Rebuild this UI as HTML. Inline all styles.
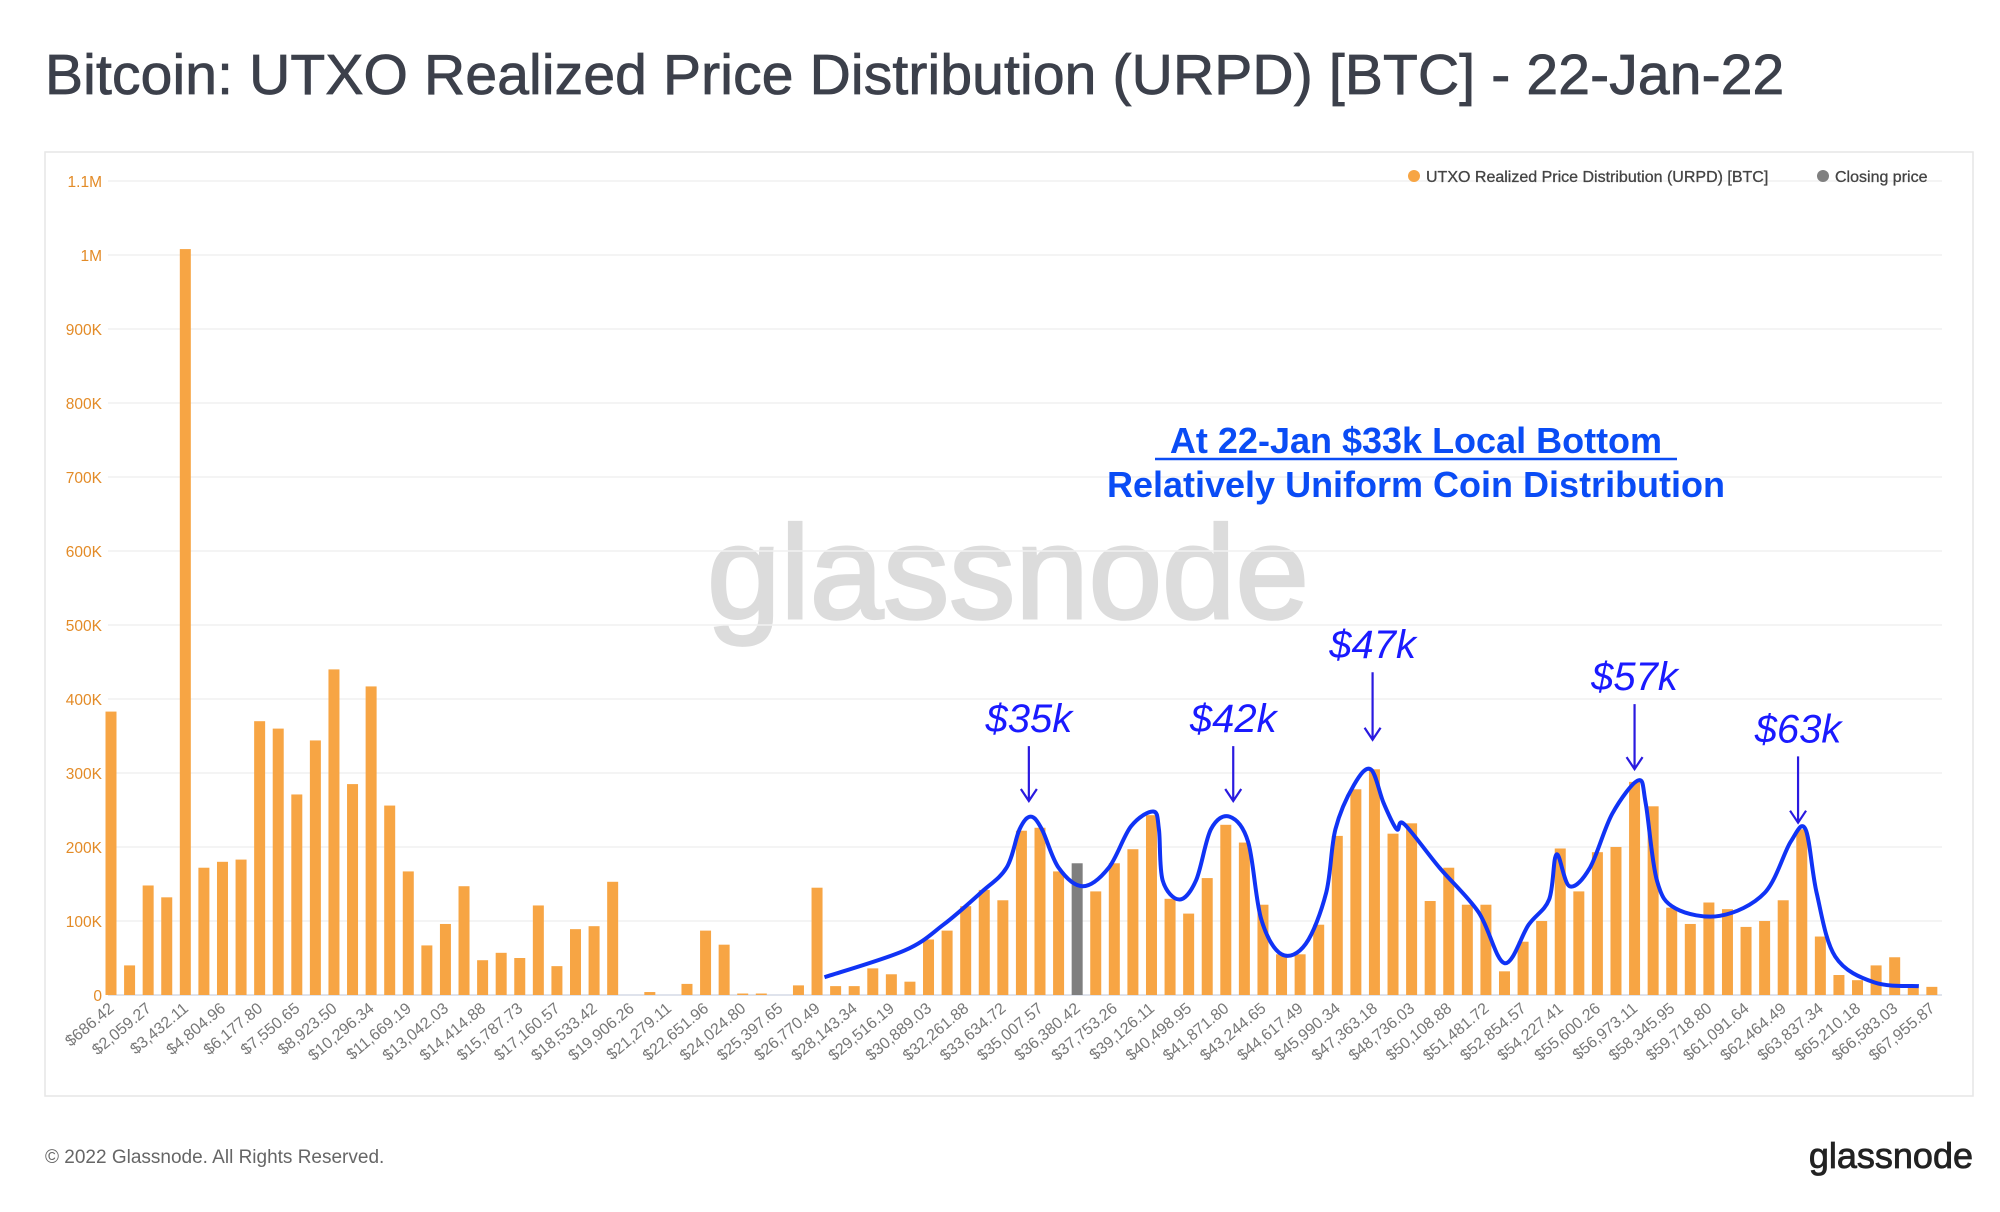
<!DOCTYPE html>
<html><head><meta charset="utf-8"><style>
body{margin:0;background:#fff;width:2000px;height:1207px;overflow:hidden;font-family:"Liberation Sans",sans-serif}
</style></head><body>
<svg id="chart" width="2000" height="1207" xmlns="http://www.w3.org/2000/svg" font-family="Liberation Sans, sans-serif">
<text x="45" y="94" font-size="57" fill="#3c404b" stroke="#3c404b" stroke-width="0.8" letter-spacing="0.15">Bitcoin: UTXO Realized Price Distribution (URPD) [BTC] - 22-Jan-22</text>
<rect x="45" y="152" width="1928" height="944" fill="none" stroke="#e6e6e6" stroke-width="1.5"/>
<text x="1008" y="618" font-size="132" fill="#dcdcdc" stroke="#dcdcdc" stroke-width="3" text-anchor="middle">glassnode</text>
<g id="grid"></g><g id="yticks"></g><g id="bars"></g><g id="xticks"></g>
<path id="curve" fill="none" stroke="#1033f5" stroke-width="4" stroke-linejoin="round"/>
<g id="annos"></g>
<g>
<circle cx="1414" cy="176" r="6" fill="#f7a544"/>
<text x="1426" y="182" font-size="16" fill="#444" stroke="#444" stroke-width="0.3">UTXO Realized Price Distribution (URPD) [BTC]</text>
<circle cx="1823" cy="176" r="6" fill="#808080"/>
<text x="1835" y="182" font-size="16" fill="#444" stroke="#444" stroke-width="0.3">Closing price</text>
</g>
<text x="1416" y="453" font-size="36" font-weight="bold" fill="#0a4cf5" text-anchor="middle">At 22-Jan $33k Local Bottom</text>
<line x1="1155" y1="459" x2="1677" y2="459" stroke="#0a4cf5" stroke-width="2.5"/>
<text x="1416" y="497" font-size="36" font-weight="bold" fill="#0a4cf5" text-anchor="middle">Relatively Uniform Coin Distribution</text>
<text x="45" y="1163" font-size="19" fill="#666">© 2022 Glassnode. All Rights Reserved.</text>
<text x="1973" y="1168" font-size="36" fill="#222" stroke="#222" stroke-width="0.8" text-anchor="end">glassnode</text>
</svg>
<script>
const values=[383,40,148,132,1008,172,180,183,370,360,271,344,440,285,417,256,167,67,96,147,47,57,50,121,39,89,93,153,0,4,0,15,87,68,2,2,0,13,145,12,12,36,28,18,75,87,120,142,128,222,226,167,178,140,178,197,243,130,110,158,230,206,122,55,55,95,215,278,305,218,232,127,172,122,122,32,72,100,198,140,193,200,288,255,118,96,125,116,92,100,128,224,79,27,20,40,51,12,11];
const closingIndex=52;
const binStart=686.42;
const labelStep=1372.846;
const yTicks=[0,100,200,300,400,500,600,700,800,900,1000,1100];
const yTickLabels=['0','100K','200K','300K','400K','500K','600K','700K','800K','900K','1M','1.1M'];
const curveIdx=[38.4,42.7,44.8,46.8,48.2,48.9,49.5,50.1,51.0,52.3,53.7,54.9,56.1,56.4,56.6,57.5,58.4,59.2,60.2,61.2,61.9,63.0,64.3,65.4,65.9,66.9,67.8,68.5,69.2,69.6,71.5,73.6,75.0,76.3,77.4,77.8,78.5,79.6,80.8,82.2,82.6,83.2,84.2,86.6,89.0,90.4,91.2,91.8,92.8,94.9,97.3];
const curveVal=[24,60,95,138,172,224,241,224,172,147,172,228,248,224,155,129,155,224,241,207,103,55,69,138,224,284,305,259,224,231,172,112,43,95,129,190,147,172,245,290,259,155,117,107,138,207,224,138,52,17,12];
const annoLabels=['$35k','$42k','$47k','$57k','$63k'];
const annoIdx=[49.4,60.4,67.9,82.0,90.8];
const annoTop=[585,585,527,552,593];
const annoBottom=[628,628,580,603,645];
const NS='http://www.w3.org/2000/svg';
const x0=111,dx=18.58,y0=995,pxPerK=0.74;
const X=i=>x0+i*dx, Y=v=>y0-v*pxPerK;
function mk(t,a,p){const e=document.createElementNS(NS,t);for(const k in a)e.setAttribute(k,a[k]);document.getElementById(p).appendChild(e);return e;}
yTicks.forEach((v,k)=>{
 const l=mk('line',{x1:108,x2:1942,y1:Y(v),y2:Y(v),stroke:v===0?'#dfe3ec':'#f1f1f1','stroke-width':v===0?2:1.5},'grid');
 
 
 const t=mk('text',{x:102,y:Y(v)+6,'font-size':15.5,fill:'#e38b27','text-anchor':'end'},'yticks');
 t.textContent=yTickLabels[k];
 
 
});
values.forEach((v,i)=>{
 const r=mk('rect',{x:X(i)-5.5,y:Y(v),width:11,height:v*pxPerK,fill:i===closingIndex?'#7f7f7f':'#f7a544'},'bars');
 
 
 if(i%2===0){
  const p=binStart+labelStep*(i/2);
  const t=mk('text',{x:X(i)+4,y:1010,'font-size':16,fill:'#777','text-anchor':'end',transform:`rotate(-40 ${X(i)+4} 1010)`},'xticks');
  t.textContent='$'+p.toLocaleString('en-US',{minimumFractionDigits:2,maximumFractionDigits:2});
  
  
 }
});
const pts=curveIdx.map((c,k)=>[X(c),Y(curveVal[k])]);
let d='M'+pts[0].join(',');
for(let k=0;k<pts.length-1;k++){const p0=pts[k-1]||pts[k],p1=pts[k],p2=pts[k+1],p3=pts[k+2]||p2;
 d+=` C${p1[0]+(p2[0]-p0[0])/6},${p1[1]+(p2[1]-p0[1])/6} ${p2[0]-(p3[0]-p1[0])/6},${p2[1]-(p3[1]-p1[1])/6} ${p2[0]},${p2[1]}`;}
document.getElementById('curve').setAttribute('d',d);
const S=1.2755;
annoLabels.forEach((lab,k)=>{
 const x=X(annoIdx[k]),t1=annoTop[k]*S,b=annoBottom[k]*S;
 const t=mk('text',{x:x,y:t1-14,'font-size':40,'font-style':'italic',fill:'#1a1aff','text-anchor':'middle'},'annos');
 t.textContent=lab;
 
 
 const a=mk('path',{d:`M${x},${t1} L${x},${b} M${x-8},${b-12} L${x},${b} L${x+8},${b-12}`,stroke:'#2a1ae0','stroke-width':2.2,fill:'none'},'annos');
 
 
});
</script>
</body></html>
